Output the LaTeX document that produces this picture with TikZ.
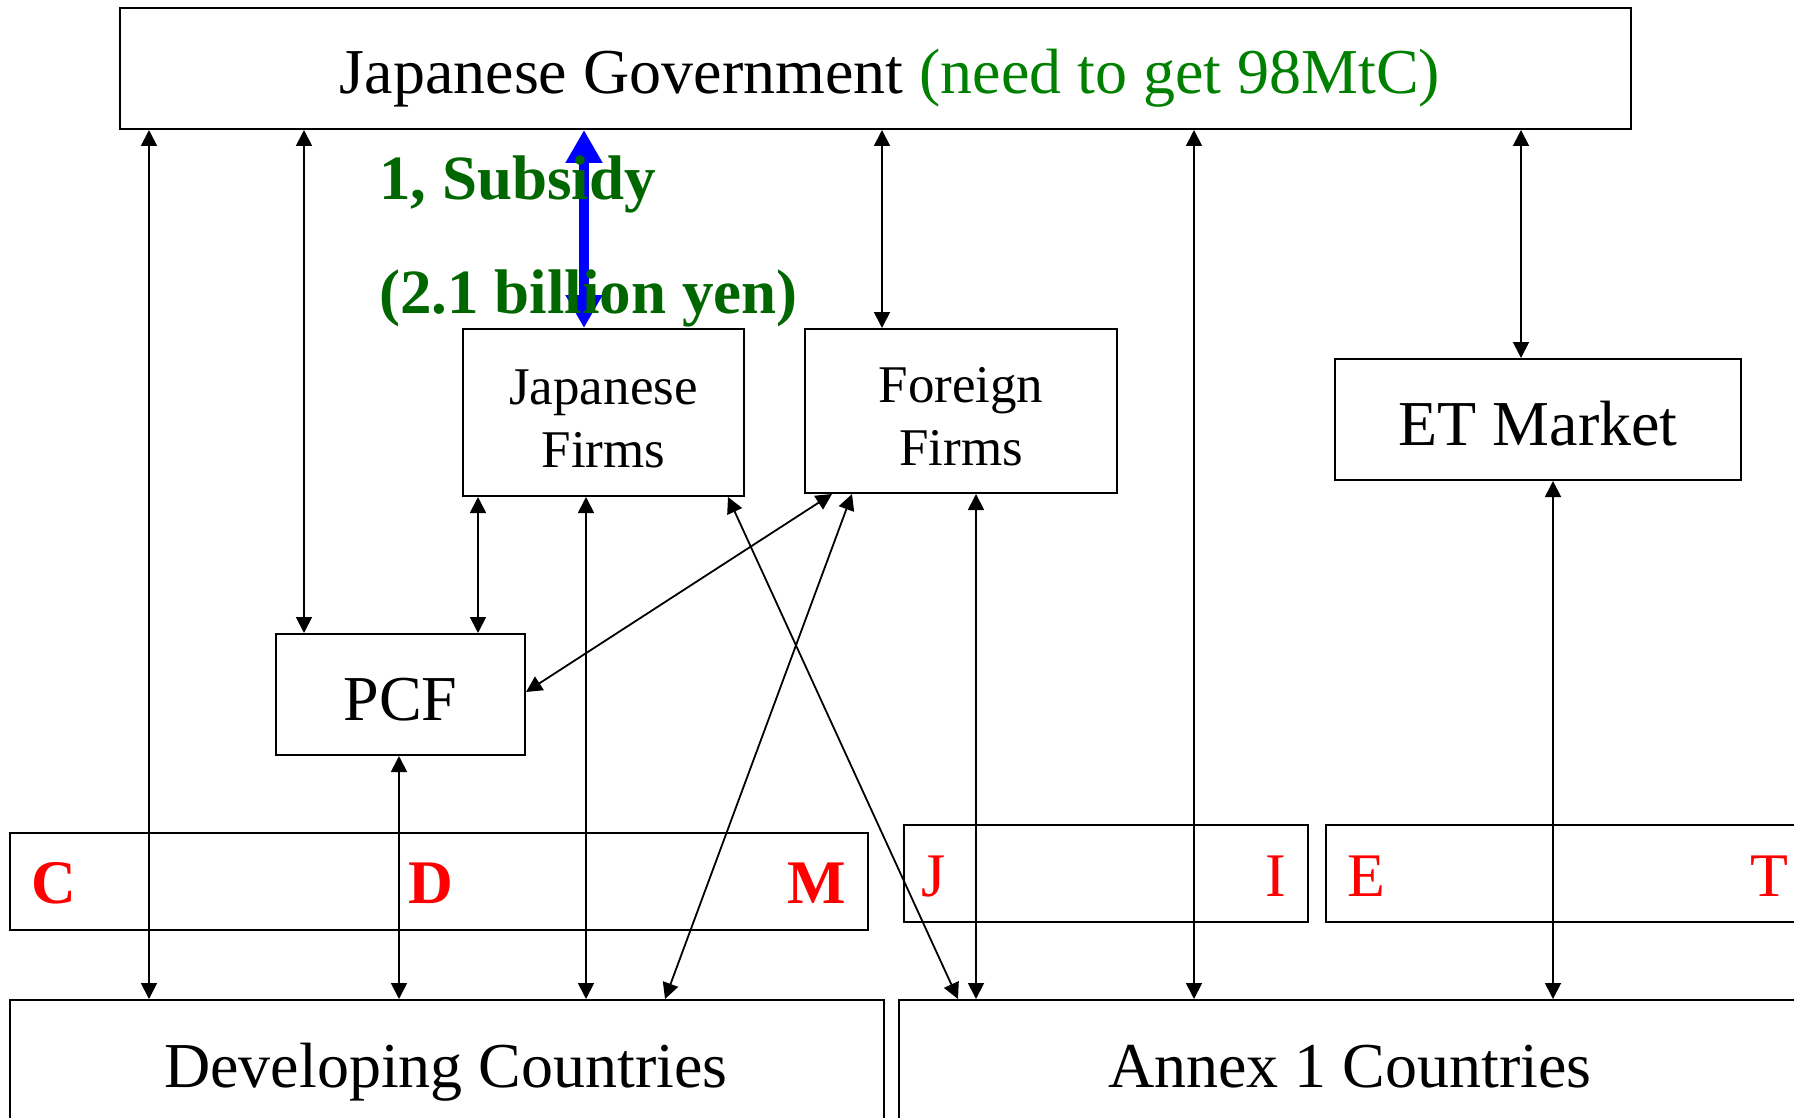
\documentclass[tikz,border=0pt]{standalone}
\usepackage{fontspec}
\setmainfont{Liberation Serif}
\usetikzlibrary{arrows.meta}
\definecolor{govgreen}{RGB}{0,128,0}
\definecolor{subgreen}{RGB}{0,102,0}
\begin{document}
\begin{tikzpicture}[x=1pt,y=-1pt,
  box/.style={draw=black,line width=2pt,inner sep=0pt,anchor=north west,align=center},
  big/.style={font=\fontsize{64}{64}\selectfont},
  small/.style={font=\fontsize{53}{63}\selectfont},
  lett/.style={text=red,inner sep=0pt,anchor=base,font=\fontsize{62}{62}\selectfont},
  arr/.style={line width=1.8pt,{Triangle[length=16pt,width=16pt]}-{Triangle[length=16pt,width=16pt]}},
  barr/.style={line width=10pt,blue,{Triangle[length=33pt,width=35pt]}-{Triangle[length=33pt,width=35pt]}},
  lab/.style={text=subgreen,inner sep=0pt,anchor=base west,font=\fontsize{63}{63}\selectfont\bfseries}]
\useasboundingbox (0,0) rectangle (1794,1118);
\fill[white] (0,0) rectangle (1794,1118);
% boxes
\node[box,minimum width=1511pt,minimum height=121pt] (gov) at (119,7) {};
\node[big,inner sep=0pt,anchor=base] (govt) at (890,94) {Japanese Government \textcolor{govgreen}{(need to get 98MtC)}};
\node[box,minimum width=281pt,minimum height=167pt] (jf) at (462,328) {};
\node[small,align=center,inner sep=0pt] (jft) at ([yshift=-6pt]jf.center) {Japanese\\Firms};
\node[box,minimum width=312pt,minimum height=164pt] (ff) at (804,328) {};
\node[small,align=center,inner sep=0pt] (fft) at ([yshift=-6pt]ff.center) {Foreign\\Firms};
\node[box,minimum width=406pt,minimum height=121pt] (etm) at (1334,358) {};
\node[big,inner sep=0pt] (etmt) at ([yshift=-4pt]etm.center) {ET Market};
\node[box,minimum width=249pt,minimum height=121pt] (pcf) at (275,633) {};
\node[big,inner sep=0pt] (pcft) at ([yshift=-5pt]pcf.center) {PCF};
\node[box,minimum width=858pt,minimum height=97pt] (cdm) at (9,832) {};
\node[box,minimum width=404pt,minimum height=97pt] (ji) at (903,824) {};
\node[box,minimum width=500pt,minimum height=97pt] (etb) at (1325,824) {};
\node[box,minimum width=874pt,minimum height=200pt] (dev) at (9,999) {};
\node[box,minimum width=920pt,minimum height=200pt] (annex) at (898,999) {};
\node[big,inner sep=0pt,anchor=base] (devt) at (446,1087) {Developing Countries};
\node[big,inner sep=0pt,anchor=base] (annext) at (1350,1087) {Annex 1 Countries};
% letters
\node[lett,font=\fontsize{62}{62}\selectfont\bfseries] (lc) at (54,903) {C};
\node[lett,font=\fontsize{62}{62}\selectfont\bfseries] (ld) at (431,903) {D};
\node[lett,font=\fontsize{62}{62}\selectfont\bfseries] (lm) at (817,903) {M};
\node[lett] (lj) at (934,896) {J};
\node[lett] (li) at (1276,896) {I};
\node[lett] (le) at (1366,896) {E};
\node[lett] (lt) at (1769,896) {T};
% connectors
\draw[arr] ([xshift=30pt]gov.south west) -- ([xshift=140pt]dev.north west);
\draw[arr] ([xshift=185pt]gov.south west) -- ([xshift=29pt]pcf.north west);
\draw[arr] ([xshift=763pt]gov.south west) -- ([xshift=78pt]ff.north west);
\draw[arr] ([xshift=1075pt]gov.south west) -- ([xshift=296pt]annex.north west);
\draw[arr] ([xshift=1402pt]gov.south west) -- ([xshift=187pt]etm.north west);
\draw[arr] ([xshift=16pt]jf.south west) -- ([xshift=203pt]pcf.north west);
\draw[arr] ([xshift=124pt]jf.south west) -- ([xshift=577pt]dev.north west);
\draw[arr] ([xshift=266pt]jf.south west) -- ([xshift=60pt]annex.north west);
\draw[arr] ([xshift=28pt]ff.south west) -- ([yshift=-59pt]pcf.north east);
\draw[arr] ([xshift=48pt]ff.south west) -- ([xshift=656pt]dev.north west);
\draw[arr] ([xshift=172pt]ff.south west) -- ([xshift=78pt]annex.north west);
\draw[arr] ([xshift=124pt]pcf.south west) -- ([xshift=390pt]dev.north west);
\draw[arr] ([xshift=219pt]etm.south west) -- ([xshift=655pt]annex.north west);
\draw[barr] ([xshift=465pt]gov.south west) -- ([xshift=122pt]jf.north west);
% subsidy labels
\node[lab] (sub1) at (379,200) {1, Subsidy};
\node[lab] (sub2) at (379,313) {(2.1 billion yen)};
\end{tikzpicture}
\end{document}
